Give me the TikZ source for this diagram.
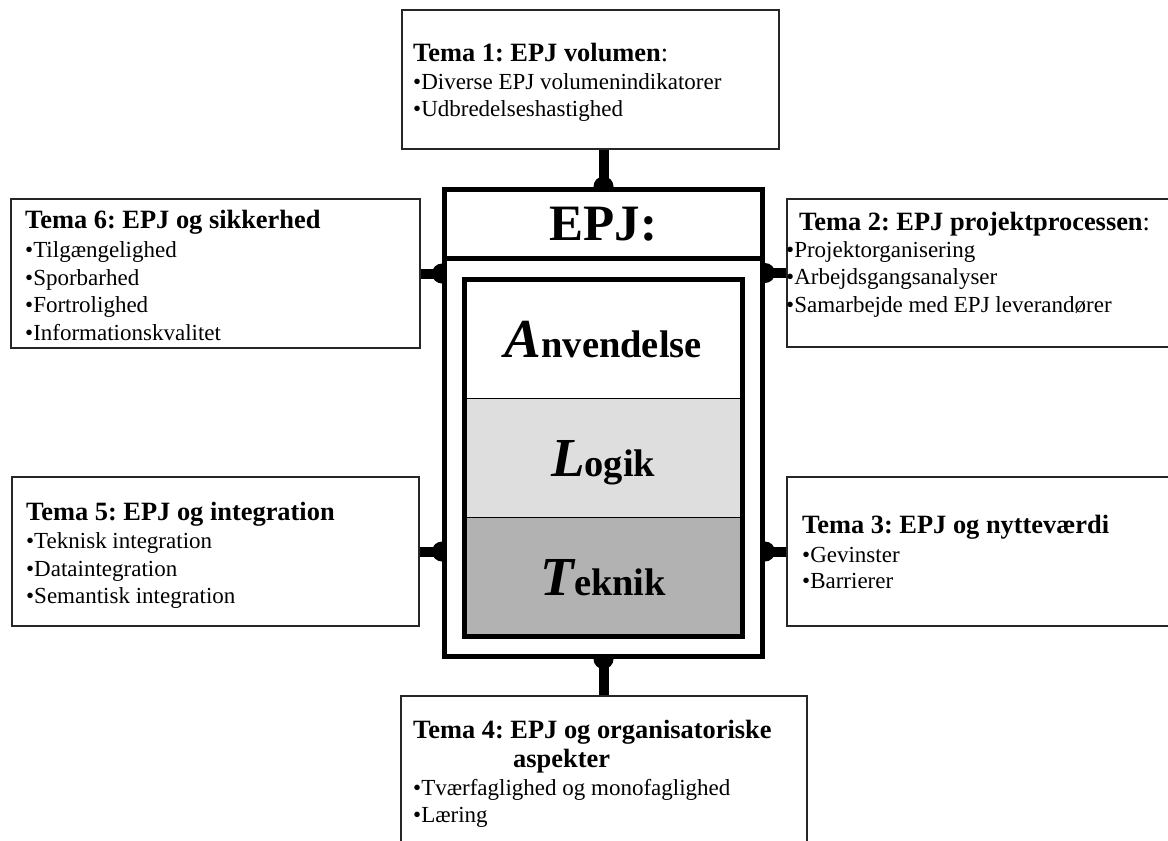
\documentclass[tikz,border=0pt]{standalone}
\usepackage{fontspec}
\setmainfont{Liberation Serif}
\usetikzlibrary{backgrounds}
\frenchspacing

\begin{document}
\begin{tikzpicture}[x=1pt,y=-1pt]
\tikzstyle{tema}=[draw=black!85, line width=1.5pt, fill=white, inner sep=0pt]
\tikzstyle{titel}=[anchor=base west, inner sep=0pt, font=\fontsize{26.4}{30}\selectfont\bfseries]
\tikzstyle{punkt}=[anchor=base west, inner sep=0pt, font=\fontsize{23}{27}\selectfont]
\tikzstyle{ramme}=[draw=black, line width=5pt, inner sep=0pt, minimum width=318pt]
\tikzstyle{lag}=[draw=black, line width=0.8pt, inner sep=0pt, minimum width=278.5pt, minimum height=119pt, text height=37pt, text depth=0pt, font=\fontsize{38.5}{40}\selectfont\bfseries]
\tikzstyle{forbind}=[line width=10pt, draw=black]

\useasboundingbox (0,0) rectangle (1168,841);

% temaboksene
\node[tema, minimum width=377pt, minimum height=139pt] (t1) at (590.5,79.5) {};
\node[tema, minimum width=388pt, minimum height=148pt] (t2) at (981,273) {};
\node[tema, minimum width=388pt, minimum height=149pt] (t3) at (981,551.5) {};
\node[tema, minimum width=406pt, minimum height=164pt] (t4) at (604,778) {};
\node[tema, minimum width=407pt, minimum height=149pt] (t5) at (215.5,551.5) {};
\node[tema, minimum width=409pt, minimum height=149pt] (t6) at (215.5,273.5) {};

% EPJ rammen
\node[ramme, minimum height=467.5pt, fill=white] (epj) at (603.5,422.75) {};
\node[ramme, minimum height=69pt, text height=33.7pt, text depth=0pt, font=\fontsize{51}{51}\selectfont\bfseries] (epjhoved) at (603.5,223.5) {EPJ:};

\node[lag] (anv) at (603.25,338.5) {{\fontsize{55}{55}\selectfont\itshape A}nvendelse};
\node[lag, fill=black!13] (log) at (603.25,457.5) {{\fontsize{55}{55}\selectfont\itshape L}ogik};
\node[lag, fill=black!30] (tek) at (603.25,576.5) {{\fontsize{55}{55}\selectfont\itshape T}eknik};
\node[draw=black, line width=5pt, inner sep=0pt, minimum width=278.5pt, minimum height=357pt] (kerne) at (603.25,457.5) {};

% forbindelser
\begin{scope}[on background layer]
\draw[forbind] (epj.north |- t1.south) -- (epj.north);
\fill (epj.north) circle (10);
\draw[forbind] (t2.west) -- (t2.west -| epj.east);
\fill (t2.west -| epj.east) circle (10);
\draw[forbind] (t3.west) -- (t3.west -| epj.east);
\fill (t3.west -| epj.east) circle (10);
\draw[forbind] (epj.south) -- (epj.south |- t4.north);
\fill (epj.south) circle (10);
\draw[forbind] (t5.east) -- (t5.east -| epj.west);
\fill (t5.east -| epj.west) circle (10);
\draw[forbind] (t6.east) -- (t6.east -| epj.west);
\fill (t6.east -| epj.west) circle (10);
\end{scope}

% tekster
\node[titel] (t1h) at (413,61.7) {Tema 1: EPJ volumen\textmd{:}};
\node[punkt] (t1a) at (413,89.3) {•Diverse EPJ volumenindikatorer};
\node[punkt] (t1b) at (413,116.7) {•Udbredelseshastighed};

\node[titel] (t2h) at (799,230) {Tema 2: EPJ projektprocessen\textmd{:}};
\node[punkt] (t2a) at (786,257) {•Projektorganisering};
\node[punkt] (t2b) at (786,284) {•Arbejdsgangsanalyser};
\node[punkt] (t2c) at (786,312) {•Samarbejde med EPJ leverandører};

\node[titel] (t3h) at (802,533) {Tema 3: EPJ og nytteværdi};
\node[punkt] (t3a) at (802,562) {•Gevinster};
\node[punkt] (t3b) at (802,588) {•Barrierer};

\node[titel] (t4h) at (413,738) {Tema 4: EPJ og organisatoriske};
\node[titel] (t4i) at (513,767) {aspekter};
\node[punkt] (t4a) at (413,795) {•Tværfaglighed og monofaglighed};
\node[punkt] (t4b) at (413,822) {•Læring};

\node[titel] (t5h) at (26,520) {Tema 5: EPJ og integration};
\node[punkt] (t5a) at (26,548.3) {•Teknisk integration};
\node[punkt] (t5b) at (26,576.7) {•Dataintegration};
\node[punkt] (t5c) at (26,603.3) {•Semantisk integration};

\node[titel] (t6h) at (25,228.3) {Tema 6: EPJ og sikkerhed};
\node[punkt] (t6a) at (25,257.3) {•Tilgængelighed};
\node[punkt] (t6b) at (25,285) {•Sporbarhed};
\node[punkt] (t6c) at (25,312.7) {•Fortrolighed};
\node[punkt] (t6d) at (25,340) {•Informationskvalitet};

\end{tikzpicture}
\end{document}
